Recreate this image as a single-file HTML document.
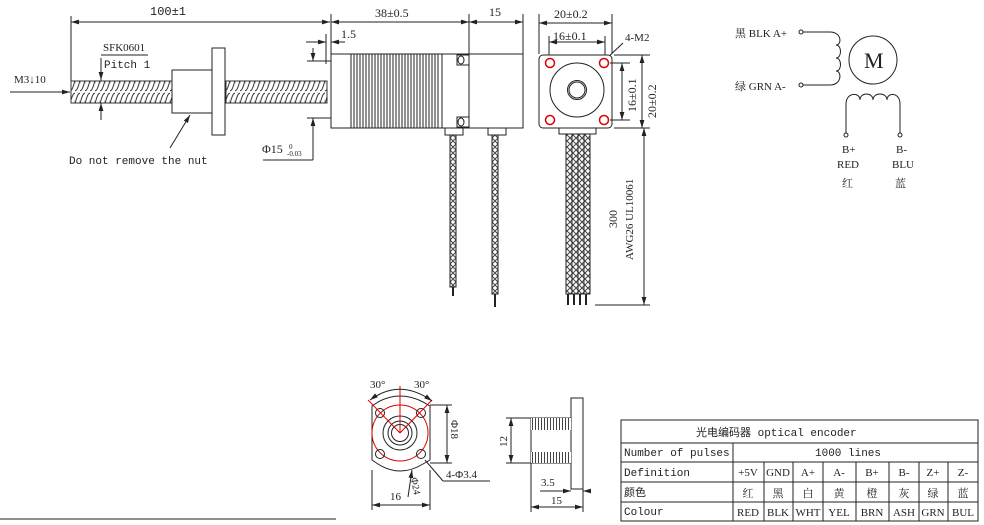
<!DOCTYPE html>
<html><head><meta charset="utf-8"><style>
html,body{margin:0;padding:0;background:#fff;}
svg{display:block;}
text{font-family:"Liberation Serif","Noto Serif CJK SC",serif;fill:#222;}
.m{font-family:"Liberation Mono","Noto Sans CJK SC",monospace;}
</style></head><body>
<svg width="984" height="525" viewBox="0 0 984 525" xmlns="http://www.w3.org/2000/svg">
<defs>
<pattern id="thr" width="5" height="23" patternUnits="userSpaceOnUse">
<rect width="5" height="23" fill="#fff"/>
<ellipse cx="2.5" cy="11.5" rx="2.3" ry="10.5" fill="none" stroke="#333" stroke-width="1" transform="rotate(12 2.5 11.5)"/>
</pattern>
<pattern id="braid" width="6" height="6" patternUnits="userSpaceOnUse">
<rect width="6" height="6" fill="#fff"/>
<path d="M0 0L6 6M6 0L0 6" stroke="#444" stroke-width="1"/>
</pattern>
<pattern id="hat" width="3" height="12" patternUnits="userSpaceOnUse">
<rect width="3" height="12" fill="#fff"/>
<line x1="1.5" y1="0" x2="1.5" y2="12" stroke="#444" stroke-width="1"/>
</pattern>
<marker id="ar" viewBox="0 0 10 6" refX="10" refY="3" markerWidth="8" markerHeight="5" orient="auto-start-reverse">
<path d="M0 0L10 3L0 6z" fill="#222"/></marker>
</defs>
<g stroke="#222" stroke-width="1" fill="none">
<line x1="71" y1="16" x2="71" y2="82"/>
<line x1="71" y1="22" x2="330" y2="22" marker-start="url(#ar)" marker-end="url(#ar)"/>
<line x1="331" y1="14" x2="331" y2="54"/>
<line x1="469" y1="14" x2="469" y2="54"/>
<line x1="523" y1="14" x2="523" y2="54"/>
<line x1="331" y1="22" x2="469" y2="22" marker-start="url(#ar)" marker-end="url(#ar)"/>
<line x1="469" y1="22" x2="523" y2="22" marker-start="url(#ar)" marker-end="url(#ar)"/>
<line x1="10" y1="92" x2="70" y2="92" marker-end="url(#ar)"/>
<line x1="101" y1="55" x2="148" y2="55"/>
<line x1="101" y1="58" x2="101" y2="120"/>
<line x1="101" y1="70" x2="101" y2="80" marker-end="url(#ar)"/>
<line x1="101" y1="113" x2="101" y2="103" marker-end="url(#ar)"/>
<line x1="170" y1="148" x2="190" y2="115" marker-end="url(#ar)"/>
<rect x="71" y="81" width="101" height="22" fill="url(#thr)" stroke="#333"/>
<rect x="226" y="81" width="101" height="22" fill="url(#thr)" stroke="#333"/>
<rect x="172" y="70" width="40" height="43" fill="#fff"/>
<rect x="212" y="48" width="13" height="87" fill="#fff"/>
<line x1="307" y1="61" x2="331" y2="61"/>
<line x1="307" y1="118" x2="331" y2="118"/>
<line x1="313" y1="48" x2="313" y2="61" marker-end="url(#ar)"/>
<line x1="313" y1="160" x2="313" y2="118" marker-end="url(#ar)"/>
<line x1="263" y1="160" x2="313" y2="160"/>
<line x1="326" y1="34" x2="326" y2="64"/>
<line x1="306" y1="42" x2="326" y2="42" marker-end="url(#ar)"/>
<line x1="345" y1="42" x2="331" y2="42" marker-end="url(#ar)"/>
<rect x="331" y="54" width="138" height="74" fill="#fff"/>
<rect x="469" y="54" width="54" height="74" fill="#fff"/>
<path d="M351 54V128M354 54V128M357 54V128M360 54V128M363 54V128M366 54V128M369 54V128M372 54V128M375 54V128M378 54V128M381 54V128M384 54V128M387 54V128M390 54V128M393 54V128M396 54V128M399 54V128M402 54V128M405 54V128M408 54V128M411 54V128M414 54V128M417 54V128M420 54V128M423 54V128M426 54V128M429 54V128M432 54V128M435 54V128M438 54V128M442 54V128"/>
<rect x="457" y="55" width="12" height="10"/><ellipse cx="461" cy="60" rx="3" ry="4"/>
<rect x="457" y="117" width="12" height="10"/><ellipse cx="461" cy="122" rx="3" ry="4"/>
<rect x="445" y="128" width="18" height="7" fill="#fff"/>
<rect x="488" y="128" width="18" height="7" fill="#fff"/>
<rect x="450" y="135" width="6" height="152" fill="url(#braid)"/>
<line x1="453" y1="287" x2="453" y2="296" stroke-width="2"/>
<rect x="492" y="135" width="6" height="159" fill="url(#braid)"/>
<line x1="495" y1="294" x2="495" y2="307" stroke-width="2"/>
<line x1="539" y1="14" x2="539" y2="54"/><line x1="612" y1="14" x2="612" y2="54"/>
<line x1="539" y1="23" x2="612" y2="23" marker-start="url(#ar)" marker-end="url(#ar)"/>
<line x1="549" y1="36" x2="549" y2="60"/><line x1="605" y1="36" x2="605" y2="60"/>
<line x1="549" y1="42" x2="605" y2="42" marker-start="url(#ar)" marker-end="url(#ar)"/>
<line x1="606" y1="59" x2="623" y2="43"/>
<rect x="539" y="55" width="73" height="73" rx="4" fill="#fff"/>
<circle cx="550" cy="63" r="4.5" stroke="#d00" stroke-width="1.5"/>
<circle cx="604" cy="63" r="4.5" stroke="#d00" stroke-width="1.5"/>
<circle cx="550" cy="120" r="4.5" stroke="#d00" stroke-width="1.5"/>
<circle cx="604" cy="120" r="4.5" stroke="#d00" stroke-width="1.5"/>
<circle cx="577" cy="90" r="27"/>
<circle cx="577" cy="90" r="9.5"/><circle cx="577" cy="90" r="8"/>
<line x1="610" y1="63" x2="630" y2="63"/><line x1="610" y1="120" x2="630" y2="120"/>
<line x1="622" y1="63" x2="622" y2="120" marker-start="url(#ar)" marker-end="url(#ar)"/>
<line x1="614" y1="55" x2="650" y2="55"/><line x1="614" y1="128" x2="650" y2="128"/>
<line x1="642" y1="55" x2="642" y2="128" marker-start="url(#ar)" marker-end="url(#ar)"/>
<line x1="644" y1="128" x2="644" y2="305" marker-start="url(#ar)" marker-end="url(#ar)"/>
<line x1="595" y1="305" x2="650" y2="305"/>
<rect x="559" y="128" width="37" height="6" fill="#fff"/>
<rect x="566" y="134" width="6" height="160" fill="url(#braid)"/>
<rect x="572" y="134" width="6" height="160" fill="url(#braid)"/>
<rect x="578" y="134" width="6" height="160" fill="url(#braid)"/>
<rect x="584" y="134" width="6" height="160" fill="url(#braid)"/>
<path d="M568 294V305M574 294V305M580 294V305M586 294V305" stroke-width="2"/>
<circle cx="801" cy="32" r="2"/><line x1="803" y1="32" x2="830" y2="32"/>
<path d="M830 32C842 32 842 45 836 45C842 45 842 58 836 58C842 58 842 71 836 71C842 71 842 85 830 85"/>
<line x1="803" y1="85" x2="830" y2="85"/><circle cx="801" cy="85" r="2"/>
<circle cx="873" cy="60" r="24"/>
<path d="M846 133V104C846 92 860 92 860 100C860 92 873 92 873 100C873 92 887 92 887 100C887 92 900 92 900 104V133"/>
<circle cx="846" cy="135" r="2"/><circle cx="900" cy="135" r="2"/>
<path d="M378 402Q400 390 423 402L430 406V460L423 464Q400 478 378 464L372 460V406Z" fill="#fff"/>
<circle cx="400" cy="433" r="28" stroke="#d00"/>
<circle cx="400" cy="433" r="17"/>
<circle cx="400" cy="433" r="12"/>
<circle cx="400" cy="433" r="8.5"/>
<circle cx="380" cy="413" r="4.5"/><circle cx="421" cy="413" r="4.5"/>
<circle cx="380" cy="454" r="4.5"/><circle cx="421" cy="454" r="4.5"/>
<path d="M400 433V386M400 433L368 400M400 433L432 400" stroke="#d00"/>
<path d="M370 400Q400 378 432 401" marker-start="url(#ar)" marker-end="url(#ar)"/>
<line x1="430" y1="405" x2="452" y2="405"/><line x1="430" y1="463" x2="452" y2="463"/>
<line x1="447" y1="405" x2="447" y2="463" marker-start="url(#ar)" marker-end="url(#ar)"/>
<line x1="425" y1="460" x2="443" y2="481"/><line x1="443" y1="481" x2="490" y2="481"/>
<line x1="408" y1="497" x2="412" y2="470" marker-end="url(#ar)"/>
<line x1="372" y1="470" x2="372" y2="510"/><line x1="430" y1="470" x2="430" y2="510"/>
<line x1="372" y1="505" x2="430" y2="505" marker-start="url(#ar)" marker-end="url(#ar)"/>
<rect x="571" y="398" width="12" height="91" fill="#fff"/>
<path d="M531 418H571M531 463H571M531 418V512M583 489V512"/>
<rect x="531" y="418" width="40" height="12" fill="url(#hat)" stroke="none"/>
<rect x="531" y="452" width="40" height="11" fill="url(#hat)" stroke="none"/>
<line x1="506" y1="418" x2="531" y2="418"/><line x1="506" y1="463" x2="531" y2="463"/>
<line x1="511" y1="418" x2="511" y2="463" marker-start="url(#ar)" marker-end="url(#ar)"/>
<line x1="540" y1="491" x2="571" y2="491" marker-end="url(#ar)"/>
<line x1="590" y1="491" x2="583" y2="491" marker-end="url(#ar)"/>
<line x1="531" y1="507" x2="583" y2="507" marker-start="url(#ar)" marker-end="url(#ar)"/>
<line x1="0" y1="519" x2="336" y2="519"/>
<rect x="621" y="420" width="357" height="101"/>
<path d="M621 443H978M621 462H978M621 482H978M621 502H978M733 443V521M764 462V521M793 462V521M823 462V521M856 462V521M889 462V521M919 462V521M948 462V521"/>
</g>
<g font-size="12">
<text x="150" y="15" class="m">100±1</text>
<text x="375" y="17">38±0.5</text>
<text x="489" y="16">15</text>
<text x="554" y="18">20±0.2</text>
<text x="553" y="40">16±0.1</text>
<text x="625" y="41" font-size="11">4-M2</text>
<text x="341" y="38">1.5</text>
<text x="14" y="83" font-size="11">M3↓10</text>
<text x="103" y="51" font-size="11">SFK0601</text>
<text x="104" y="68" class="m" font-size="11">Pitch 1</text>
<text x="69" y="164" class="m" font-size="11">Do not remove the nut</text>
<text x="262" y="153">Φ15</text><text x="289" y="149" font-size="7">0</text><text x="287" y="156" font-size="7">-0.03</text>
<text transform="translate(636,112) rotate(-90)">16±0.1</text>
<text transform="translate(656,118) rotate(-90)">20±0.2</text>
<text transform="translate(617,228) rotate(-90)">300</text>
<text transform="translate(633,260) rotate(-90)" font-size="11">AWG26 UL10061</text>
<text x="735" y="37" font-size="11">黑 BLK A+</text>
<text x="735" y="90" font-size="11">绿 GRN A-</text>
<text x="864" y="68" font-size="22" font-family="Liberation Sans,sans-serif" font-weight="300">M</text>
<text x="842" y="153" font-size="11">B+</text><text x="837" y="168" font-size="11">RED</text><text x="842" y="187" font-size="11">红</text>
<text x="896" y="153" font-size="11">B-</text><text x="892" y="168" font-size="11">BLU</text><text x="895" y="187" font-size="11">蓝</text>
<text x="370" y="388" font-size="11">30°</text>
<text x="414" y="388" font-size="11">30°</text>
<text transform="translate(451,420) rotate(90)" font-size="11">Φ18</text>
<text x="446" y="478" font-size="11">4-Φ3.4</text>
<text transform="translate(411,478) rotate(80)" font-size="10">Φ24</text>
<text x="390" y="500" font-size="11">16</text>
<text transform="translate(507,447) rotate(-90)" font-size="11">12</text>
<text x="541" y="486" font-size="11">3.5</text>
<text x="551" y="504" font-size="11">15</text>
</g>
<g font-size="11" class="m">
<text x="696" y="436" class="m">光电编码器 optical encoder</text>
<text x="624" y="456" class="m">Number of pulses</text>
<text x="815" y="456" class="m">1000 lines</text>
<text x="624" y="476" class="m">Definition</text>
<text x="624" y="496" class="m">颜色</text>
<text x="624" y="515" class="m">Colour</text>
</g>
<g font-size="11" text-anchor="middle">
<text x="748" y="476">+5V</text><text x="778" y="476">GND</text><text x="808" y="476">A+</text><text x="839" y="476">A-</text><text x="872" y="476">B+</text><text x="904" y="476">B-</text><text x="933" y="476">Z+</text><text x="963" y="476">Z-</text>
<text x="748" y="497">红</text><text x="778" y="497">黑</text><text x="808" y="497">白</text><text x="839" y="497">黄</text><text x="872" y="497">橙</text><text x="904" y="497">灰</text><text x="933" y="497">绿</text><text x="963" y="497">蓝</text>
<text x="748" y="516">RED</text><text x="778" y="516">BLK</text><text x="808" y="516">WHT</text><text x="839" y="516">YEL</text><text x="872" y="516">BRN</text><text x="904" y="516">ASH</text><text x="933" y="516">GRN</text><text x="963" y="516">BUL</text>
</g>
</svg>
</body></html>
